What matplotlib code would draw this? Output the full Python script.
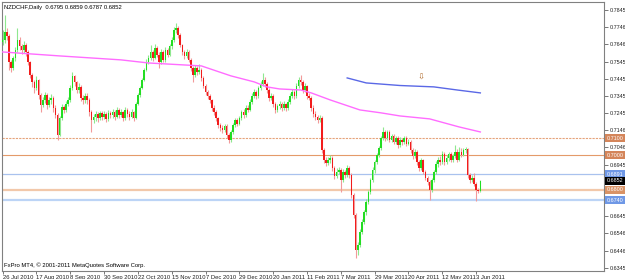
# NZDCHF daily candle chart, MT4 style
import matplotlib
matplotlib.use("Agg")
import matplotlib.pyplot as plt
import matplotlib.transforms as mtrans

plt.rcParams['font.family'] = ['Liberation Sans', 'DejaVu Sans']

# data
first_open = 0.7660
closes = [0.7671, 0.7717, 0.7694, 0.7543, 0.7508, 0.7566, 0.7613, 0.7671, 0.7636, 0.7613,
          0.7642, 0.7601, 0.7543, 0.7467, 0.7427, 0.7392, 0.7438, 0.7351, 0.7293, 0.7322,
          0.7351, 0.7293, 0.7322, 0.7334, 0.7276, 0.7235, 0.7119, 0.7218, 0.7281, 0.7264,
          0.7299, 0.7322, 0.7392, 0.7462, 0.7427, 0.7380, 0.7398, 0.7334, 0.7322, 0.7345,
          0.7322, 0.7252, 0.7206, 0.7223, 0.7241, 0.7218, 0.7247, 0.7223, 0.7241, 0.7212,
          0.7247, 0.7235, 0.7252, 0.7223, 0.7264, 0.7235, 0.7252, 0.7218, 0.7264, 0.7241,
          0.7223, 0.7252, 0.7218, 0.7299, 0.7351, 0.7392, 0.7438, 0.7496, 0.7543, 0.7566,
          0.7601, 0.7566, 0.7624, 0.7584, 0.7543, 0.7601, 0.7555, 0.7613, 0.7584, 0.7636,
          0.7671, 0.7729, 0.7740, 0.7700, 0.7642, 0.7601, 0.7578, 0.7601, 0.7555, 0.7508,
          0.7467, 0.7508, 0.7485, 0.7496, 0.7450, 0.7404, 0.7369, 0.7345, 0.7322, 0.7276,
          0.7252, 0.7218, 0.7177, 0.7160, 0.7148, 0.7171, 0.7119, 0.7090, 0.7136, 0.7177,
          0.7206, 0.7183, 0.7218, 0.7252, 0.7235, 0.7276, 0.7264, 0.7310, 0.7345, 0.7369,
          0.7345, 0.7392, 0.7415, 0.7438, 0.7415, 0.7380, 0.7334, 0.7345, 0.7299, 0.7264,
          0.7287, 0.7299, 0.7276, 0.7299, 0.7276, 0.7310, 0.7345, 0.7369, 0.7345, 0.7404,
          0.7438, 0.7427, 0.7380, 0.7404, 0.7345, 0.7334, 0.7276, 0.7241, 0.7223, 0.7206,
          0.7218, 0.7032, 0.6974, 0.6956, 0.6974, 0.6985, 0.6927, 0.6881, 0.6904, 0.6915,
          0.6858, 0.6904, 0.6886, 0.6927, 0.6886, 0.6770, 0.6654, 0.6451, 0.6480, 0.6555,
          0.6613, 0.6671, 0.6730, 0.6788, 0.6858, 0.6915, 0.6962, 0.7003, 0.7043, 0.7102,
          0.7136, 0.7102, 0.7136, 0.7090, 0.7113, 0.7078, 0.7102, 0.7061, 0.7090, 0.7078,
          0.7102, 0.7067, 0.7078, 0.7032, 0.6997, 0.7020, 0.6962, 0.6927, 0.6974, 0.6904,
          0.6869, 0.6846, 0.6799, 0.6858, 0.6904, 0.6950, 0.6974, 0.6962, 0.7008, 0.6962,
          0.6985, 0.7008, 0.6974, 0.6997, 0.7020, 0.6974, 0.7020, 0.7003, 0.7032, 0.7038,
          0.6886, 0.6858, 0.6869, 0.6834, 0.6799, 0.6795, 0.6852]
highs = [0.7729, 0.7816, 0.7740, 0.7705, 0.7555, 0.7580, 0.7630, 0.7740, 0.7690, 0.7650,
         0.7665, 0.7655, 0.7610, 0.7550, 0.7480, 0.7440, 0.7460, 0.7445, 0.7365, 0.7340,
         0.7370, 0.7360, 0.7340, 0.7355, 0.7345, 0.7290, 0.7245, 0.7230, 0.7300, 0.7295,
         0.7315, 0.7340, 0.7410, 0.7485, 0.7470, 0.7435, 0.7420, 0.7410, 0.7350, 0.7360,
         0.7360, 0.7335, 0.7265, 0.7240, 0.7255, 0.7250, 0.7260, 0.7260, 0.7255, 0.7250,
         0.7265, 0.7260, 0.7270, 0.7265, 0.7280, 0.7275, 0.7270, 0.7260, 0.7280, 0.7275,
         0.7255, 0.7270, 0.7260, 0.7310, 0.7365, 0.7405, 0.7450, 0.7510, 0.7560, 0.7585,
         0.7640, 0.7615, 0.7650, 0.7635, 0.7600, 0.7620, 0.7610, 0.7630, 0.7625, 0.7650,
         0.7690, 0.7745, 0.7769, 0.7750, 0.7710, 0.7650, 0.7615, 0.7620, 0.7610, 0.7565,
         0.7520, 0.7525, 0.7520, 0.7530, 0.7505, 0.7460, 0.7415, 0.7380, 0.7355, 0.7330,
         0.7290, 0.7265, 0.7225, 0.7190, 0.7175, 0.7185, 0.7180, 0.7130, 0.7150, 0.7190,
         0.7220, 0.7215, 0.7230, 0.7265, 0.7270, 0.7290, 0.7290, 0.7325, 0.7360, 0.7385,
         0.7380, 0.7405, 0.7430, 0.7479, 0.7455, 0.7425, 0.7390, 0.7365, 0.7355, 0.7310,
         0.7300, 0.7315, 0.7310, 0.7315, 0.7305, 0.7325, 0.7360, 0.7385, 0.7380, 0.7420,
         0.7455, 0.7467, 0.7440, 0.7420, 0.7410, 0.7365, 0.7345, 0.7290, 0.7255, 0.7235,
         0.7235, 0.7230, 0.7045, 0.6990, 0.6990, 0.7000, 0.6995, 0.6940, 0.6925, 0.6935,
         0.6925, 0.6920, 0.6915, 0.6945, 0.6940, 0.6900, 0.6780, 0.6665, 0.6495, 0.6570,
         0.6630, 0.6685, 0.6745, 0.6800, 0.6870, 0.6930, 0.6975, 0.7015, 0.7055, 0.7115,
         0.7165, 0.7150, 0.7150, 0.7145, 0.7125, 0.7125, 0.7115, 0.7115, 0.7105, 0.7100,
         0.7115, 0.7110, 0.7095, 0.7090, 0.7045, 0.7035, 0.7030, 0.6975, 0.6985, 0.6980,
         0.6915, 0.6880, 0.6855, 0.6870, 0.6915, 0.6965, 0.6990, 0.6995, 0.7025, 0.7020,
         0.7000, 0.7020, 0.7020, 0.7010, 0.7061, 0.7035, 0.7050, 0.7040, 0.7045, 0.7050,
         0.7045, 0.6900, 0.6885, 0.6895, 0.6845, 0.6810, 0.6859]
lows = [0.7642, 0.7655, 0.7670, 0.7496, 0.7485, 0.7496, 0.7550, 0.7600, 0.7610, 0.7590,
        0.7595, 0.7580, 0.7525, 0.7450, 0.7400, 0.7365, 0.7380, 0.7330, 0.7252, 0.7280,
        0.7305, 0.7270, 0.7280, 0.7300, 0.7250, 0.7215, 0.7090, 0.7110, 0.7205, 0.7245,
        0.7250, 0.7285, 0.7310, 0.7380, 0.7405, 0.7360, 0.7365, 0.7315, 0.7300, 0.7305,
        0.7300, 0.7230, 0.7136, 0.7190, 0.7200, 0.7195, 0.7205, 0.7205, 0.7210, 0.7195,
        0.7200, 0.7215, 0.7220, 0.7205, 0.7215, 0.7220, 0.7225, 0.7200, 0.7205, 0.7225,
        0.7205, 0.7215, 0.7200, 0.7210, 0.7290, 0.7340, 0.7385, 0.7430, 0.7490, 0.7530,
        0.7555, 0.7550, 0.7560, 0.7570, 0.7510, 0.7530, 0.7540, 0.7545, 0.7570, 0.7575,
        0.7620, 0.7660, 0.7710, 0.7685, 0.7630, 0.7585, 0.7560, 0.7565, 0.7540, 0.7490,
        0.7427, 0.7455, 0.7470, 0.7475, 0.7435, 0.7390, 0.7350, 0.7330, 0.7305, 0.7260,
        0.7235, 0.7200, 0.7160, 0.7140, 0.7130, 0.7135, 0.7100, 0.7073, 0.7080, 0.7125,
        0.7165, 0.7170, 0.7175, 0.7205, 0.7220, 0.7225, 0.7250, 0.7255, 0.7300, 0.7335,
        0.7330, 0.7335, 0.7380, 0.7405, 0.7400, 0.7365, 0.7315, 0.7320, 0.7280, 0.7245,
        0.7250, 0.7270, 0.7260, 0.7265, 0.7260, 0.7265, 0.7300, 0.7335, 0.7330, 0.7335,
        0.7390, 0.7410, 0.7365, 0.7370, 0.7330, 0.7320, 0.7260, 0.7225, 0.7205, 0.7190,
        0.7195, 0.7015, 0.6955, 0.6940, 0.6945, 0.6955, 0.6910, 0.6865, 0.6870, 0.6890,
        0.6788, 0.6845, 0.6870, 0.6875, 0.6870, 0.6750, 0.6635, 0.6404, 0.6420, 0.6465,
        0.6540, 0.6600, 0.6655, 0.6715, 0.6775, 0.6845, 0.6900, 0.6950, 0.6990, 0.7030,
        0.7090, 0.7085, 0.7090, 0.7075, 0.7080, 0.7065, 0.7065, 0.7045, 0.7050, 0.7060,
        0.7065, 0.7055, 0.7060, 0.7015, 0.6980, 0.6985, 0.6945, 0.6910, 0.6915, 0.6890,
        0.6855, 0.6830, 0.6741, 0.6785, 0.6845, 0.6890, 0.6935, 0.6945, 0.6950, 0.6945,
        0.6950, 0.6970, 0.6960, 0.6960, 0.6985, 0.6960, 0.6965, 0.6990, 0.6995, 0.7015,
        0.6870, 0.6840, 0.6845, 0.6820, 0.6735, 0.6780, 0.6787]

# moving averages (bar index, value)
ma_slow_bars = [0, 27, 56, 69, 94, 108, 119, 125, 131, 141, 146, 155, 169, 179, 188, 202, 216, 226]
ma_slow = [0.7601, 0.7578, 0.7555, 0.7537, 0.7520, 0.7462, 0.7427, 0.7398, 0.7386, 0.7380,
           0.7363, 0.7322, 0.7264, 0.7247, 0.7229, 0.7212, 0.7165, 0.7136]
ma_fast_bars = [163, 172, 188, 204, 215, 226]
ma_fast = [0.7450, 0.7421, 0.7406, 0.7398, 0.7380, 0.7363]

# horizontal levels
levels = [0.7100, 0.7000, 0.6891, 0.6800, 0.6740]
last_price = 0.6852

date_labels = ["26 Jul 2010", "17 Aug 2010", "8 Sep 2010", "30 Sep 2010", "22 Oct 2010",
               "15 Nov 2010", "7 Dec 2010", "29 Dec 2010", "20 Jan 2011", "11 Feb 2011",
               "7 Mar 2011", "29 Mar 2011", "20 Apr 2011", "12 May 2011", "3 Jun 2011"]
date_bars = list(range(0, 225, 16))

price_ticks = [0.7845, 0.7746, 0.7646, 0.7545, 0.7445, 0.7345, 0.7245, 0.7146, 0.7046,
               0.6945, 0.6845, 0.6745, 0.6645, 0.6546, 0.6446, 0.6345]

opens = [first_open] + closes[:-1]
FS = 4.2
FS_Y = 3.9

fig = plt.figure(figsize=(6.25, 2.79), dpi=100)
fig.patch.set_facecolor("white")
ax = fig.add_axes([2 / 625, 1 - 271 / 279, 602 / 625, 269 / 279])
ax.set_facecolor("white")

# levels
line_styles = {
    0.7100: dict(color="#e6a37a", lw=0.8, ls=(0, (2, 1))),
    0.7000: dict(color="#e49a6a", lw=0.8, ls="-"),
    0.6891: dict(color="#a9c2ee", lw=0.9, ls="-"),
    0.6800: dict(color="#f2c8aa", lw=1.6, ls="-"),
    0.6740: dict(color="#bcd4f6", lw=1.6, ls="-"),
}
for lv in levels:
    ax.axhline(lv, zorder=1, **line_styles[lv])

# candles
for i in range(len(closes)):
    o, c, h, l = opens[i], closes[i], highs[i], lows[i]
    up = c >= o
    wick = "#8fe88f" if up else "#f29a9a"
    body = "#22dd22" if up else "#f21c1c"
    ax.vlines(i, l, h, color=wick, lw=0.8, zorder=2)
    bh = abs(c - o)
    if bh < 0.0004:
        bh = 0.0004
    ax.bar(i, bh, bottom=min(o, c), width=0.75, color=body, lw=0, zorder=3)

ax.plot(ma_slow_bars, ma_slow, color="#ff6cff", lw=1.0, zorder=4)
ax.plot(ma_fast_bars, ma_fast, color="#5a68e6", lw=1.0, zorder=4)

# arrow object
ax.text(198, 0.7452, "\u21e9", fontsize=6, color="#b06a2a", ha="center", va="center",
        family="DejaVu Sans", zorder=5)

ax.set_xlim(-0.3, 284.5)
ax.set_ylim(0.63276, 0.78915)

# axes styling
for s in ax.spines.values():
    s.set_color("#808080")
    s.set_linewidth(0.8)

ax.yaxis.tick_right()
ax.set_yticks(price_ticks)
ylabels = []
for p in price_ticks:
    if p in (0.6845, 0.6745):
        ylabels.append("")
    else:
        ylabels.append(f"{p:.4f}")
ax.set_yticklabels(ylabels)
ax.tick_params(axis="y", length=3, width=0.6, color="#606060", pad=0.8,
               labelsize=FS_Y, labelcolor="#202020")

ax.set_xticks(date_bars)
ax.set_xticklabels(date_labels, ha="left")
ax.tick_params(axis="x", length=2.5, width=0.6, color="#606060", pad=0.6,
               labelsize=FS, labelcolor="#202020")

# price labels on right axis
trans = mtrans.blended_transform_factory(ax.transAxes, ax.transData)
label_bg = {0.7100: "#d4855a", 0.7000: "#d4855a", 0.6891: "#6f98e6",
            0.6800: "#d99366", 0.6740: "#6f98e6"}
for lv in levels:
    ax.text(1.0045, lv, f"{lv:.4f}", transform=trans, fontsize=FS_Y, color="white",
            ha="left", va="center", clip_on=False, zorder=10,
            bbox=dict(boxstyle="square,pad=0.3", fc=label_bg[lv], ec="none"))
ax.text(1.0045, last_price, f"{last_price:.4f}", transform=trans, fontsize=FS_Y, color="white",
        ha="left", va="center", clip_on=False, zorder=10,
        bbox=dict(boxstyle="square,pad=0.3", fc="black", ec="none"))

ax.text(0.004, 0.99, "NZDCHF,Daily  0.6795 0.6859 0.6787 0.6852", transform=ax.transAxes,
        fontsize=FS, ha="left", va="top", color="black")
ax.text(0.004, 0.012, "FxPro MT4, \u00a9 2001-2011 MetaQuotes Software Corp.",
        transform=ax.transAxes, fontsize=FS, ha="left", va="bottom", color="black")

fig.savefig("out.png", dpi=100, facecolor="white")
